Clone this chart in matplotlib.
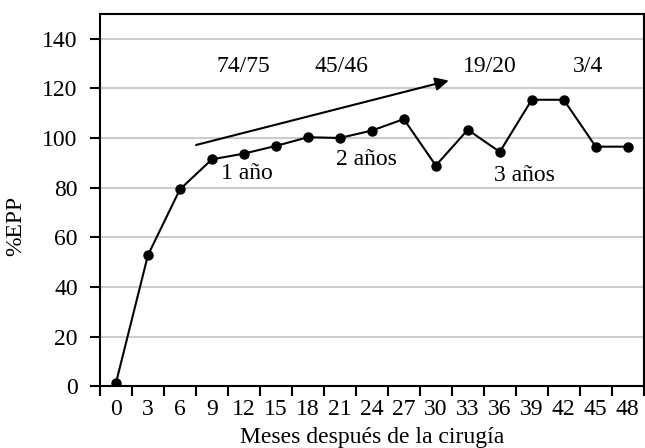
import numpy as np
import matplotlib
matplotlib.use("Agg")
import matplotlib.pyplot as plt

plt.rcParams['font.family'] = ['Liberation Serif', 'DejaVu Serif']

# datos
meses = ['0', '3', '6', '9', '12', '15', '18', '21', '24', '27', '30', '33', '36', '39', '42', '45', '48']
epp = [1.3, 52.8, 79.3, 91.4, 93.7, 96.8, 100.3, 100.0, 103.0, 107.6, 88.9, 103.3, 94.4, 115.4, 115.4, 96.5, 96.5]

seguimiento = ['74/75', '45/46', '19/20', '3/4']
seg_x = [3.98, 7.05, 11.69, 14.76]
seg_y = [128.8, 129.0, 129.0, 129.0]

anios = ['1 año', '2 años', '3 años']
anios_x = [4.08, 7.83, 12.78]
anios_y = [85.8, 91.2, 84.8]

fs = 17

fig = plt.figure(figsize=(6.45, 4.48), dpi=100)
ax = fig.add_axes([0.155, 0.138, 0.843, 0.831])

x = np.arange(len(meses))
ax.plot(x, epp, color='black', lw=1.5, marker='o', ms=6.5, zorder=3)

ax.set_xlim(-0.5, len(meses) - 0.5)
ax.set_ylim(0, 150)

# etiquetas en el centro de cada categoria, marcas en los limites
ax.set_xticks(x)
ax.set_xticklabels(meses, fontsize=fs)
ax.set_xticks(np.arange(len(meses) + 1) - 0.5, minor=True)
ax.tick_params(axis='x', which='major', length=0, pad=9)
ax.tick_params(axis='x', which='minor', length=7, width=1.5, direction='out')

ax.set_yticks(np.arange(0, 141, 20))
ax.tick_params(axis='y', length=7, width=1.5, pad=9, labelsize=fs)
ax.yaxis.grid(True, color='#cccccc', lw=1.5)
ax.set_axisbelow(True)

for s in ax.spines.values():
    s.set_linewidth(1.5)

ax.set_xlabel('Meses después de la cirugía', fontsize=fs, labelpad=5)
ax.set_ylabel('%EPP', fontsize=fs)
ax.yaxis.set_label_coords(-0.135, 0.43)

for t, tx, ty in zip(seguimiento, seg_x, seg_y):
    ax.text(tx, ty, t, fontsize=fs, ha='center', va='center')
for t, tx, ty in zip(anios, anios_x, anios_y):
    ax.text(tx, ty, t, fontsize=fs, ha='center', va='center')

ax.annotate('', xy=(10.49, 123.4), xytext=(2.42, 96.9),
            arrowprops=dict(arrowstyle='-|>', color='black', lw=1.5, mutation_scale=20))

fig.savefig('out.png', dpi=100)
